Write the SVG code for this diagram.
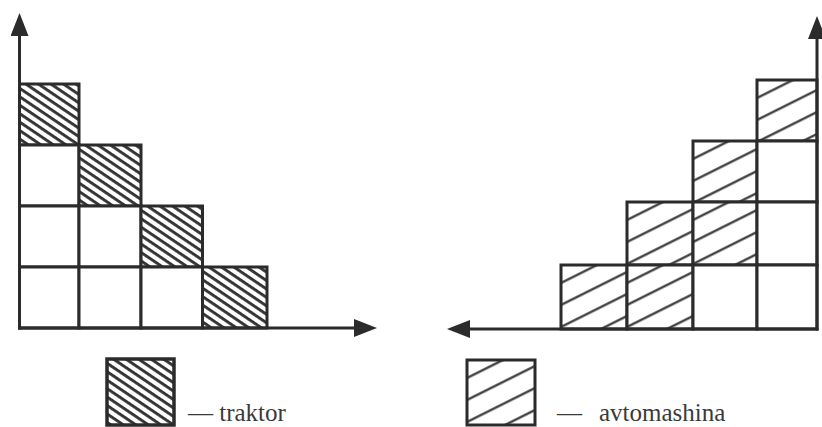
<svg xmlns="http://www.w3.org/2000/svg" width="822" height="427" viewBox="0 0 822 427">
<defs>
<style>
.cell{stroke:#2b2b2b;stroke-width:3;stroke-linejoin:miter}
.w{fill:#fff}
.t{fill:url(#hatchT)}
.a{fill:url(#hatchA)}
.axis{stroke:#2b2b2b;stroke-width:3;fill:none}
.lbl{font-family:"Liberation Serif","Times New Roman",serif;font-size:25px;fill:#3a3a3a}
</style>
<pattern id="hatchT" patternUnits="userSpaceOnUse" width="10" height="7" patternTransform="rotate(34)">
<rect width="10" height="7" fill="#fff"/>
<rect y="2" width="10" height="2.9" fill="#333"/>
</pattern>
<pattern id="hatchA" patternUnits="userSpaceOnUse" width="10" height="19.68" patternTransform="rotate(-26.565)">
<rect width="10" height="19.68" fill="#fff"/>
<rect y="15" width="10" height="2.2" fill="#333"/>
</pattern>
<marker id="ah" viewBox="-1 -9 23 18" refX="0" refY="0" markerWidth="23" markerHeight="18" markerUnits="userSpaceOnUse" orient="auto">
<path d="M-1,-9 L22,0 L-1,9 Z" fill="#2b2b2b"/>
</marker>
</defs>
<rect width="822" height="427" fill="#fff"/>

<!-- left chart cells -->
<g id="L-r1c1" transform="translate(19.5,84)"><rect class="cell t" width="59.5" height="61"/></g>
<g id="L-r2c1" transform="translate(19.5,145)"><rect class="cell w" width="59.5" height="61"/></g>
<g id="L-r2c2" transform="translate(79,145)"><rect class="cell t" width="62" height="61"/></g>
<g id="L-r3c1" transform="translate(19.5,206)"><rect class="cell w" width="59.5" height="61"/></g>
<g id="L-r3c2" transform="translate(79,206)"><rect class="cell w" width="62" height="61"/></g>
<g id="L-r3c3" transform="translate(141,206)"><rect class="cell t" width="61.5" height="61"/></g>
<g id="L-r4c1" transform="translate(19.5,267)"><rect class="cell w" width="59.5" height="61"/></g>
<g id="L-r4c2" transform="translate(79,267)"><rect class="cell w" width="62" height="61"/></g>
<g id="L-r4c3" transform="translate(141,267)"><rect class="cell w" width="61.5" height="61"/></g>
<g id="L-r4c4" transform="translate(202.5,267)"><rect class="cell t" width="64.5" height="61"/></g>

<!-- right chart cells -->
<g id="R-r1c4" transform="translate(757,80)"><rect class="cell a" width="60" height="61"/></g>
<g id="R-r2c3" transform="translate(693,141)"><rect class="cell a" width="64" height="61"/></g>
<g id="R-r2c4" transform="translate(757,141)"><rect class="cell w" width="60" height="61"/></g>
<g id="R-r3c2" transform="translate(627,202)"><rect class="cell a" width="66" height="63"/></g>
<g id="R-r3c3" transform="translate(693,202)"><rect class="cell a" width="64" height="63"/></g>
<g id="R-r3c4" transform="translate(757,202)"><rect class="cell w" width="60" height="63"/></g>
<g id="R-r4c1" transform="translate(561,265)"><rect class="cell a" width="66" height="64"/></g>
<g id="R-r4c2" transform="translate(627,265)"><rect class="cell a" width="66" height="64"/></g>
<g id="R-r4c3" transform="translate(693,265)"><rect class="cell w" width="64" height="64"/></g>
<g id="R-r4c4" transform="translate(757,265)"><rect class="cell w" width="60" height="64"/></g>

<!-- axes -->
<g id="connectors">
<line class="axis" x1="19.5" y1="329.5" x2="19.5" y2="35" marker-end="url(#ah)"/>
<line class="axis" x1="18" y1="328" x2="355" y2="328" marker-end="url(#ah)"/>
<line class="axis" x1="817" y1="330.5" x2="817" y2="38" marker-end="url(#ah)"/>
<line class="axis" x1="818.5" y1="329" x2="469" y2="329" marker-end="url(#ah)"/>
</g>

<!-- legend -->
<g id="legend-traktor">
<g transform="translate(107,359)"><rect class="t" width="67" height="66" stroke="#2b2b2b" stroke-width="3.5"/></g>
<text class="lbl" x="188" y="420.5">— traktor</text>
</g>
<g id="legend-avtomashina">
<g transform="translate(467,360)"><rect class="a" width="68" height="65" stroke="#2b2b2b" stroke-width="3"/></g>
<text class="lbl" x="557" y="420.5">—<tspan x="599">avtomashina</tspan></text>
</g>
</svg>
